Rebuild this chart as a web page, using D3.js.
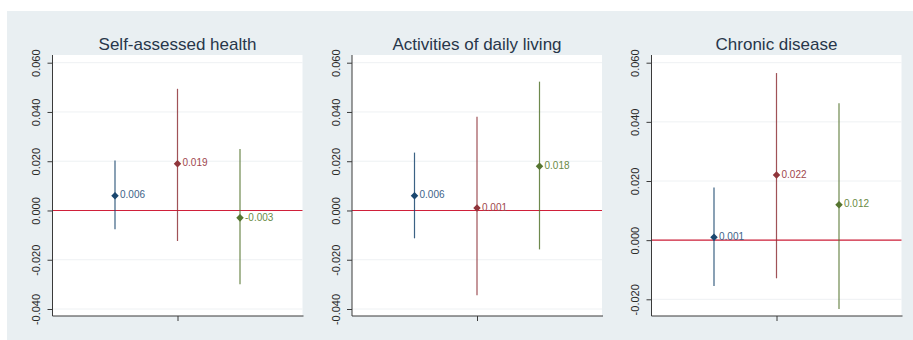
<!DOCTYPE html>
<html>
<head>
<meta charset="utf-8">
<script src="https://cdn.jsdelivr.net/npm/d3@7/dist/d3.min.js"></script>
<style>
  html, body { margin: 0; padding: 0; background: #ffffff; }
  svg { display: block; font-family: "Liberation Sans", Arial, sans-serif; }
</style>
</head>
<body>
<svg id="chart" width="913" height="340"></svg>
<script>
// Panel titles
const panelTitles = ["Self-assessed health", "Activities of daily living", "Chronic disease"];

// Three estimates per panel (blue, red, green): point estimate and 95% interval
const estimates = [
  [0.006, 0.019, -0.003],
  [0.006, 0.001, 0.018],
  [0.001, 0.022, 0.012]
];
const lowerBounds = [
  [-0.0076, -0.0124, -0.0300],
  [-0.0113, -0.0344, -0.0158],
  [-0.0155, -0.0129, -0.0233]
];
const upperBounds = [
  [0.0203, 0.0494, 0.0250],
  [0.0235, 0.0381, 0.0523],
  [0.0178, 0.0565, 0.0463]
];
const valueLabels = [
  ["0.006", "0.019", "-0.003"],
  ["0.006", "0.001", "0.018"],
  ["0.001", "0.022", "0.012"]
];

// y-axis ticks per panel
const yTicks = [
  [-0.04, -0.02, 0, 0.02, 0.04, 0.06],
  [-0.04, -0.02, 0, 0.02, 0.04, 0.06],
  [-0.02, 0, 0.02, 0.04, 0.06]
];

// x positions of the three estimates on a 0..4 axis
const xPositions = [1, 2, 3];

const seriesColors = ["#1a476f", "#90353b", "#55752f"];
const labelColors = ["#3d6388", "#a0474d", "#6a8a45"];

const svg = d3.select("#chart");

// bluish-gray graph background
svg.append("rect")
  .attr("x", 7).attr("y", 11).attr("width", 906).attr("height", 329)
  .attr("fill", "#e9eff2");

const panelLeft = [52.5, 352, 651.5];
const plotWidth = 250;
const plotTop = 55, plotBottom = 316;

panelTitles.forEach((title, p) => {
  const g = svg.append("g");
  const left = panelLeft[p];
  const right = left + plotWidth;

  const x = d3.scaleLinear().domain([0, 4]).range([left, right]);
  const ticks = yTicks[p];
  const yMin = d3.min(ticks), yMax = d3.max(ticks);
  const bottomTickY = p === 2 ? 299.3 : 309;
  const y = d3.scaleLinear().domain([yMin, yMax]).range([bottomTickY, 62.7]);

  // plot region
  g.append("rect")
    .attr("x", left).attr("y", plotTop)
    .attr("width", plotWidth).attr("height", plotBottom - plotTop)
    .attr("fill", "#ffffff");

  // gridlines
  g.selectAll("line.grid").data(ticks).enter().append("line")
    .attr("class", "grid")
    .attr("x1", left).attr("x2", right)
    .attr("y1", d => y(d)).attr("y2", d => y(d))
    .attr("stroke", "#eef1f3").attr("stroke-width", 1);

  // zero reference line
  g.append("line")
    .attr("x1", left).attr("x2", right)
    .attr("y1", y(0)).attr("y2", y(0))
    .attr("stroke", "#d0203a").attr("stroke-width", 1.2);

  // y axis
  const yAxis = d3.axisLeft(y).tickValues(ticks).tickFormat(d3.format(".3f")).tickSize(5).tickSizeOuter(0);
  const ya = g.append("g").attr("transform", `translate(${left},0)`).call(yAxis);
  ya.select(".domain").remove();
  ya.append("line").attr("x1", 0).attr("x2", 0).attr("y1", plotTop).attr("y2", plotBottom)
    .attr("stroke", "#3a3a3a").attr("stroke-width", 1);
  ya.selectAll(".tick line").attr("stroke", "#3a3a3a");
  ya.selectAll(".tick text")
    .attr("fill", "#2a2a2a")
    .style("font-size", "11px")
    .attr("x", 0).attr("dy", 0)
    .attr("text-anchor", "middle")
    .attr("transform", "translate(-15,0) rotate(-90)")
    .attr("dominant-baseline", "middle")
    .text(d => (d < 0 ? "-" : "") + d3.format(".3f")(Math.abs(d)));

  // x axis
  const xAxis = d3.axisBottom(x).tickValues([2]).tickFormat("").tickSize(5).tickSizeOuter(0);
  const xa = g.append("g").attr("transform", `translate(0,${plotBottom})`).call(xAxis);
  xa.select(".domain").remove();
  xa.append("line").attr("x1", left).attr("x2", right + 1).attr("y1", 0).attr("y2", 0)
    .attr("stroke", "#3a3a3a").attr("stroke-width", 1.2);
  xa.selectAll(".tick line").attr("stroke", "#3a3a3a");

  // title
  g.append("text")
    .attr("x", x(2)).attr("y", 50)
    .attr("text-anchor", "middle")
    .attr("fill", "#27364a")
    .style("font-size", "17px")
    .text(title);

  // confidence intervals
  xPositions.forEach((xp, i) => {
    g.append("line")
      .attr("x1", x(xp)).attr("x2", x(xp))
      .attr("y1", y(lowerBounds[p][i])).attr("y2", y(upperBounds[p][i]))
      .attr("stroke", seriesColors[i]).attr("stroke-width", 1.2).attr("opacity", 0.85);
  });

  // point estimates as diamonds
  const diamond = d3.symbol().type(d3.symbolDiamond2).size(36);
  xPositions.forEach((xp, i) => {
    g.append("path")
      .attr("d", diamond())
      .attr("transform", `translate(${x(xp)},${y(estimates[p][i])})`)
      .attr("fill", seriesColors[i]);
    g.append("text")
      .attr("x", x(xp) + 5).attr("y", y(estimates[p][i]))
      .attr("dominant-baseline", "middle")
      .attr("fill", labelColors[i])
      .style("font-size", "10px")
      .text(valueLabels[p][i]);
  });
});
</script>
</body>
</html>
